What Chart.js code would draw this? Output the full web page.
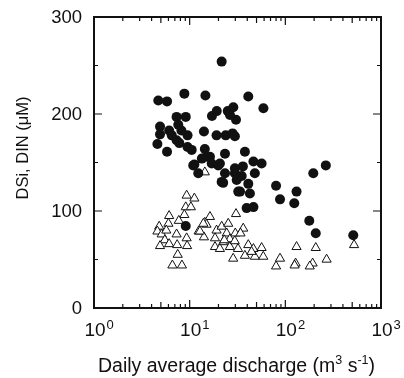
<!DOCTYPE html>
<html>
<head>
<meta charset="utf-8">
<script src="https://cdn.jsdelivr.net/npm/chart.js@4/dist/chart.umd.min.js"></script>
<style>
  html, body { margin: 0; padding: 0; background: #fff; }
  #wrap { width: 404px; height: 378px; }
</style>
</head>
<body>
<div id="wrap"><canvas id="c" width="404" height="378"></canvas></div>
<script>
// discharge (m3 s-1) and concentration (uM)
const dsiQ = [21.6, 4.7, 5.8, 8.8, 14.6, 41, 59, 19.2, 17.1, 25, 28.6, 30.5, 26.4, 7.3, 9.1, 4.9, 4.9, 6.1, 6.5, 7.6,
    8.2, 9.5, 14.1, 19.1, 23.8, 28.1, 29.7, 4.6, 5.8, 7.3, 7.8, 9.5, 10.5, 14.4, 16.3, 23.4, 11.2, 17, 20.7, 29.7,
    37.8, 46.4, 56.5, 265, 196, 80, 88, 131, 124, 178, 208, 513, 48, 41, 42.6, 33.6, 39.4, 46.4, 21.6, 10.9,
    12.3, 15, 19.9, 23.4, 29.7, 31, 22.4, 32.2, 9.1, 13.4, 36, 35];
const dsiConc = [254, 214, 213, 221, 219, 218, 206, 203, 198, 203, 207, 194, 199, 197, 197, 187, 179, 183, 178, 189,
    183, 178, 182, 178, 178, 180, 177, 169, 161, 173, 170, 166, 163, 164, 156, 159, 148, 149, 149, 144,
    161, 151, 149, 147, 139, 126, 112, 120, 108, 90, 77, 75, 139, 128, 118, 120, 103, 104, 130, 147,
    139, 156, 147, 139, 139, 132, 129, 120, 84.5, 154, 146, 136];

const dinQ = [9.3, 11.2, 9.1, 10.3, 8.8, 6.1, 4.8, 6.0, 7.7, 4.6, 5.1, 5.7, 7.3, 12.4, 14.1, 9.3, 5.5, 4.9, 6.1, 7.4,
    9.4, 7.5, 6.6, 8.3, 16.3, 14.4, 15, 19.1, 18.4, 18.4, 21.6, 25.3, 24.4, 26.3, 26.3, 29.6, 28.5, 30.5, 36.3, 30,
    34, 41, 46.4, 56.5, 37.8, 48, 58.8, 44.3, 88, 80, 131, 128, 125, 208, 193, 180, 270, 523, 14.4, 13.9,
    12.8, 22.4, 20.7, 32, 23];
const dinConc = [116, 113, 104, 104, 96, 95, 84, 87, 90, 79, 76, 80, 76, 79, 73, 72, 70, 64, 66, 65,
    64, 55, 44, 44, 94, 88, 86, 80, 72, 63, 84, 87, 77, 71, 63, 69, 51, 97, 82, 77,
    77, 65, 61, 62, 54, 53, 53, 58, 51, 43, 63, 46, 44, 62, 46, 43, 50, 65, 140, 87,
    79, 68, 61, 61, 70];

const xTicks = [1, 10, 100, 1000];
const xTickExp = ['0', '1', '2', '3'];
const yTicks = [0, 100, 200, 300];
const yMinor = [50, 150, 250];

const INK = '#111';
const FONT = '"Liberation Sans", Arial, sans-serif';

// frame, inward ticks on all four sides, tick labels and axis titles
const frame = {
    id: 'frame',
    afterDraw(chart) {
        const { ctx, chartArea: a, scales: { x, y } } = chart;
        ctx.save();
        ctx.strokeStyle = INK;
        ctx.lineWidth = 1.2;
        ctx.beginPath();
        const tick = (px, len, vertical) => {
            if (vertical) {
                ctx.moveTo(px, a.bottom); ctx.lineTo(px, a.bottom - len);
                ctx.moveTo(px, a.top); ctx.lineTo(px, a.top + len);
            } else {
                ctx.moveTo(a.left, px); ctx.lineTo(a.left + len, px);
                ctx.moveTo(a.right, px); ctx.lineTo(a.right - len, px);
            }
        };
        for (let d = 0; d < xTicks.length; d++) {
            tick(x.getPixelForValue(xTicks[d]), 8, true);
            if (d < xTicks.length - 1) {
                for (let m = 2; m <= 9; m++) tick(x.getPixelForValue(xTicks[d] * m), m === 5 ? 6 : 4, true);
            }
        }
        yTicks.forEach(v => tick(y.getPixelForValue(v), 8, false));
        yMinor.forEach(v => tick(y.getPixelForValue(v), 4, false));
        ctx.stroke();

        ctx.lineWidth = 2;
        ctx.strokeRect(a.left, a.top, a.right - a.left, a.bottom - a.top);

        ctx.fillStyle = INK;
        ctx.font = '18.5px ' + FONT;
        ctx.textAlign = 'right';
        ctx.textBaseline = 'middle';
        yTicks.forEach(v => ctx.fillText(String(v), a.left - 12, y.getPixelForValue(v) + 1));

        ctx.textBaseline = 'alphabetic';
        xTicks.forEach((v, i) => {
            const px = x.getPixelForValue(v);
            ctx.font = '19px ' + FONT;
            ctx.textAlign = 'center';
            ctx.fillText('10', px + 1, 336);
            const w = ctx.measureText('10').width;
            ctx.font = '13px ' + FONT;
            ctx.textAlign = 'left';
            ctx.fillText(xTickExp[i], px + 1 + w / 2 + 1, 329);
        });

        // x title with superscripts
        const parts = [
            ['Daily average discharge (m', 19.5, 0],
            ['3', 12.5, -8],
            [' s', 19.5, 0],
            ['-1', 12.5, -8],
            [')', 19.5, 0]
        ];
        let total = 0;
        parts.forEach(p => { ctx.font = p[1] + 'px ' + FONT; total += ctx.measureText(p[0]).width; });
        let cx = (a.left + a.right) / 2 - total / 2 - 1;
        ctx.textAlign = 'left';
        parts.forEach(p => {
            ctx.font = p[1] + 'px ' + FONT;
            ctx.fillText(p[0], cx, 372 + p[2]);
            cx += ctx.measureText(p[0]).width;
        });

        ctx.translate(28, 148);
        ctx.rotate(-Math.PI / 2);
        ctx.font = '16.5px ' + FONT;
        ctx.textAlign = 'center';
        ctx.fillText('DSi, DIN (\u03BCM)', 0, 0);
        ctx.restore();
    }
};

new Chart(document.getElementById('c'), {
    type: 'scatter',
    data: {
        datasets: [
            {
                label: 'DSi',
                data: dsiQ.map((q, i) => ({ x: q, y: dsiConc[i] })),
                pointStyle: 'circle',
                pointRadius: 5,
                backgroundColor: INK,
                borderColor: INK,
                borderWidth: 0,
            },
            {
                label: 'DIN',
                data: dinQ.map((q, i) => ({ x: q, y: dinConc[i] })),
                pointStyle: 'triangle',
                pointRadius: 5.3,
                backgroundColor: '#fff',
                borderColor: INK,
                borderWidth: 1,
            },
        ],
    },
    options: {
        responsive: false,
        animation: false,
        devicePixelRatio: 1,
        layout: { padding: { left: 94, right: 23, top: 17, bottom: 70 } },
        plugins: { legend: { display: false }, tooltip: { enabled: false } },
        scales: {
            x: { type: 'logarithmic', min: 1, max: 1000, display: false },
            y: { type: 'linear', min: 0, max: 300, display: false },
        },
    },
    plugins: [frame],
});
</script>
</body>
</html>
